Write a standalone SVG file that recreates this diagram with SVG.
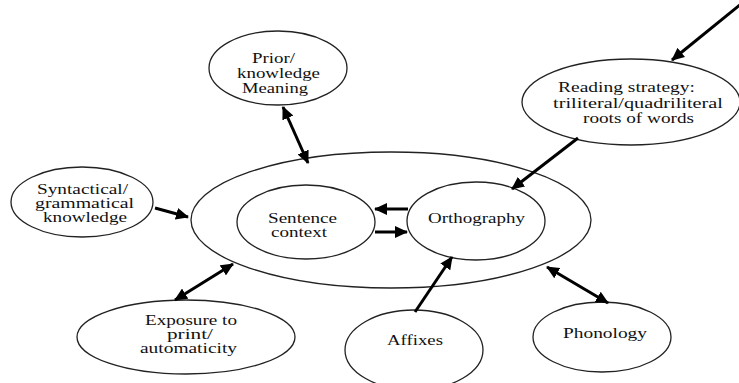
<svg xmlns="http://www.w3.org/2000/svg" width="739" height="383" viewBox="0 0 739 383">
<style>
.n{fill:#fff;stroke:#222;stroke-width:1.3}
.t{font-family:"Liberation Serif","Times New Roman",serif;font-size:14px;fill:#111}
.c{stroke:#000;stroke-width:3;fill:none}
</style>
<defs>
<marker id="ah" markerUnits="userSpaceOnUse" markerWidth="14" markerHeight="12" refX="12" refY="6" orient="auto-start-reverse">
<path d="M0,0 L13,6 L0,12 z" fill="#000"/>
</marker>
</defs>
<rect width="739" height="383" fill="#fff"/>
<g id="main"><ellipse class="n" cx="391" cy="220" rx="200" ry="68"/></g>
<g id="sentence">
<ellipse class="n" cx="306" cy="222" rx="69" ry="37"/>
<text class="t" x="268" y="223" textLength="69" lengthAdjust="spacingAndGlyphs">Sentence</text>
<text class="t" x="271" y="237" textLength="56" lengthAdjust="spacingAndGlyphs">context</text>
</g>
<g id="orthography">
<ellipse class="n" cx="476" cy="221" rx="69" ry="39"/>
<text class="t" x="428" y="223" textLength="97" lengthAdjust="spacingAndGlyphs">Orthography</text>
</g>
<g id="prior">
<ellipse class="n" cx="278" cy="68" rx="69" ry="37"/>
<text class="t" x="252" y="63" textLength="43" lengthAdjust="spacingAndGlyphs">Prior/</text>
<text class="t" x="237" y="78" textLength="83" lengthAdjust="spacingAndGlyphs">knowledge</text>
<text class="t" x="242" y="93" textLength="66" lengthAdjust="spacingAndGlyphs">Meaning</text>
</g>
<g id="reading">
<ellipse class="n" cx="631" cy="102" rx="109" ry="43"/>
<text class="t" x="558" y="92" textLength="137" lengthAdjust="spacingAndGlyphs">Reading strategy:</text>
<text class="t" x="553" y="108" textLength="170" lengthAdjust="spacingAndGlyphs">triliteral/quadriliteral</text>
<text class="t" x="583" y="123" textLength="111" lengthAdjust="spacingAndGlyphs">roots of words</text>
</g>
<g id="syntactical">
<ellipse class="n" cx="82" cy="202" rx="71" ry="35"/>
<text class="t" x="37" y="194" textLength="91" lengthAdjust="spacingAndGlyphs">Syntactical/</text>
<text class="t" x="35" y="208" textLength="99" lengthAdjust="spacingAndGlyphs">grammatical</text>
<text class="t" x="43" y="222" textLength="84" lengthAdjust="spacingAndGlyphs">knowledge</text>
</g>
<g id="exposure">
<ellipse class="n" cx="186" cy="337" rx="109" ry="37"/>
<text class="t" x="145" y="325" textLength="92" lengthAdjust="spacingAndGlyphs">Exposure to</text>
<text class="t" x="167" y="339" textLength="46" lengthAdjust="spacingAndGlyphs">print/</text>
<text class="t" x="140" y="353" textLength="97" lengthAdjust="spacingAndGlyphs">automaticity</text>
</g>
<g id="affixes">
<ellipse class="n" cx="414" cy="350" rx="69" ry="40"/>
<text class="t" x="387" y="345" textLength="56" lengthAdjust="spacingAndGlyphs">Affixes</text>
</g>
<g id="phonology">
<ellipse class="n" cx="602" cy="337" rx="69" ry="35"/>
<text class="t" x="563" y="338" textLength="84" lengthAdjust="spacingAndGlyphs">Phonology</text>
</g>
<g id="connectors">
<line class="c" x1="741" y1="4" x2="672" y2="60" marker-end="url(#ah)"/>
<line class="c" x1="578" y1="138" x2="512" y2="189" marker-end="url(#ah)"/>
<line class="c" x1="283" y1="107" x2="308" y2="163" marker-start="url(#ah)" marker-end="url(#ah)"/>
<line class="c" x1="155" y1="208" x2="188" y2="217" marker-end="url(#ah)"/>
<line class="c" x1="408" y1="209" x2="375" y2="209" marker-end="url(#ah)"/>
<line class="c" x1="375" y1="232" x2="407" y2="232" marker-end="url(#ah)"/>
<line class="c" x1="175" y1="300" x2="233" y2="264" marker-start="url(#ah)" marker-end="url(#ah)"/>
<line class="c" x1="415" y1="312" x2="452" y2="257" marker-end="url(#ah)"/>
<line class="c" x1="547" y1="267" x2="608" y2="303" marker-start="url(#ah)" marker-end="url(#ah)"/>
</g>
</svg>
